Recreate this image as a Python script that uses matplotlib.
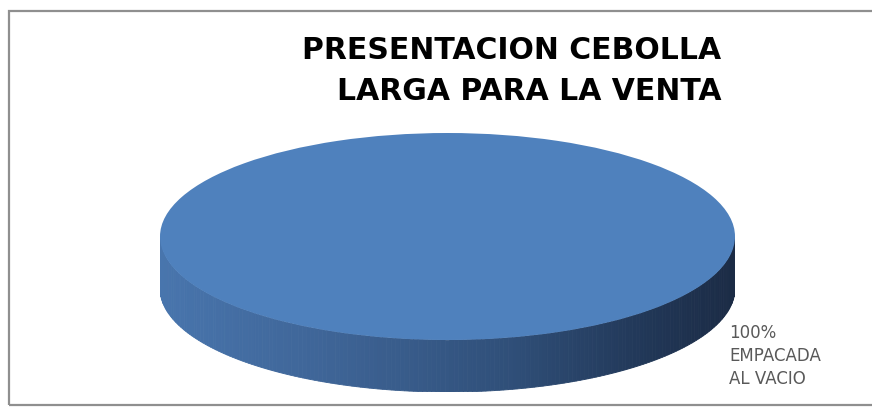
import matplotlib.pyplot as plt
from matplotlib.patches import Rectangle, Polygon
from matplotlib.colors import LinearSegmentedColormap
import numpy as np

# ---------------------------------------
# Data
# ---------------------------------------
title = "PRESENTACION CEBOLLA\nLARGA PARA LA VENTA"
categories = ["EMPACADA\nAL VACIO"]
values = [100]
slice_colors = ["#4f81bd"]

# ---------------------------------------
# Figure setup (pixel based layout)
# ---------------------------------------
W, H = 872, 408
fig = plt.figure(figsize=(W / 100, H / 100), dpi=100)
fig.patch.set_facecolor("white")

# chart area frame (right edge runs off the picture)
fig.add_artist(Rectangle((9 / W, (H - 405) / H), 1.3, (405 - 11) / H,
                         transform=fig.transFigure, fill=False,
                         edgecolor="#8f8f8f", linewidth=1.6))

# pie axes: top face spans x 160..735, y 133..340, side down to 392
x0, x1 = 160, 735
y_top, y_face, y_bot = 133, 340, 392
ax = fig.add_axes([x0 / W, (H - y_bot) / H, (x1 - x0) / W, (y_bot - y_top) / H])
depth = 2 * (y_bot - y_face) / (y_face - y_top)

wedges, _ = ax.pie(values, colors=slice_colors, startangle=90,
                   counterclock=False, radius=1,
                   wedgeprops=dict(linewidth=0, zorder=3))
ax.set_aspect("auto")
ax.set_xlim(-1, 1)
ax.set_ylim(-1 - depth, 1)
ax.axis("off")

# side of the 3D disc, shaded left to right
side_cmap = LinearSegmentedColormap.from_list(
    "side", [(0.0, "#4875ad"), (0.3, "#3e6496"), (0.6, "#30507a"),
             (0.85, "#213757"), (1.0, "#1b2b45")])
for w in wedges:
    a0, a1 = np.radians(w.theta1), np.radians(w.theta2)
    th = np.linspace(a0, a1, 400)
    th = th[(np.sin(th) <= 0)]
    for t0, t1 in zip(th[:-1], th[1:]):
        xs = [np.cos(t0), np.cos(t1), np.cos(t1), np.cos(t0)]
        ys = [np.sin(t0), np.sin(t1), np.sin(t1) - depth, np.sin(t0) - depth]
        c = side_cmap((np.cos((t0 + t1) / 2) + 1) / 2)
        ax.add_patch(Polygon(list(zip(xs, ys)), closed=True, facecolor=c,
                             edgecolor=c, linewidth=0.6, zorder=1))

# ---------------------------------------
# Texts
# ---------------------------------------
fig.text(721 / W, 1 - 36 / H, title, ha="right", va="top",
         fontsize=21.5, fontweight="bold", family="DejaVu Sans", color="#000000",
         linespacing=1.5)

fig.text(729 / W, 1 - 324 / H, f"{values[0]}%\n{categories[0]}",
         ha="left", va="top", fontsize=12, family="DejaVu Sans",
         color="#595959", linespacing=1.35)

plt.savefig("out.png", dpi=100)
